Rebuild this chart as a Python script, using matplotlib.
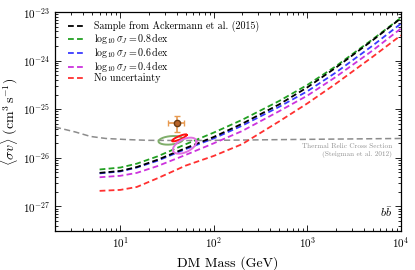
import numpy as np
import matplotlib
matplotlib.use("Agg")
import matplotlib.pyplot as plt

plt.rcParams['font.family'] = 'serif'
plt.rcParams['font.serif'] = ['cmr10', 'DejaVu Serif']
plt.rcParams['mathtext.fontset'] = 'cm'
plt.rcParams['axes.formatter.use_mathtext'] = True

# DM mass grid (GeV) and log10 of the limits <sigma v> (cm^3 s^-1)
mass = [6, 10, 15, 25, 50, 100, 200, 500, 1000, 2000, 5000, 10000]
lim_ackermann = [-26.31, -26.27, -26.19, -26.04, -25.80, -25.57, -25.30, -24.90, -24.55, -24.15, -23.58, -23.13]
lim_08dex = [-26.24, -26.20, -26.12, -25.97, -25.72, -25.48, -25.22, -24.83, -24.50, -24.12, -23.56, -23.12]
lim_06dex = [-26.32, -26.28, -26.20, -26.06, -25.82, -25.60, -25.34, -24.95, -24.63, -24.25, -23.69, -23.24]
lim_04dex = [-26.40, -26.37, -26.31, -26.17, -25.94, -25.70, -25.45, -25.04, -24.72, -24.34, -23.79, -23.34]
lim_nounc = [-26.68, -26.66, -26.60, -26.42, -26.16, -25.96, -25.72, -25.25, -24.88, -24.48, -23.92, -23.48]

# thermal relic cross section (Steigman et al. 2012)
relic_mass = [2, 3.3, 4.8, 7, 12, 20, 50, 100, 1000, 10000]
relic_sv = [4.3e-26, 3.4e-26, 2.75e-26, 2.5e-26, 2.37e-26, 2.29e-26, 2.27e-26, 2.29e-26, 2.4e-26, 2.5e-26]

# GC excess best fit point with errors
gc_mass, gc_mass_lo, gc_mass_hi = 40.0, 32.3, 47.5
gc_sv, gc_sv_lo, gc_sv_hi = 5.3e-26, 3.4e-26, 7.2e-26

# ellipses: centre log10 mass, centre log10 sv, half widths (dex), correlation
ell_cx = [1.539, 1.631, 1.688]
ell_cy = [-25.64, -25.59, -25.75]
ell_dx = [0.131, 0.078, 0.126]
ell_dy = [0.089, 0.072, 0.165]
ell_rho = [0.25, 0.85, 0.5]
ell_colors = ['#7fae6a', '#ff1010', '#e070e0']

fig = plt.figure(figsize=(4.15, 2.7), dpi=100)
ax = fig.add_axes([0.1325, 0.1455, 0.8335, 0.81])

dash = (0, (3.2, 1.8))
lw = 1.3
m = np.array(mass)
ax.plot(m, 10**np.array(lim_ackermann), color='k', ls=dash, lw=lw, zorder=5,
        label='Sample from Ackermann et al. (2015)')
ax.plot(m, 10**np.array(lim_08dex), color='#22a022', ls=dash, lw=lw, zorder=4,
        label=r'$\log_{10}\sigma_J = 0.8\,\mathrm{dex}$')
ax.plot(m, 10**np.array(lim_06dex), color='#3a3aff', ls=dash, lw=lw, zorder=3,
        label=r'$\log_{10}\sigma_J = 0.6\,\mathrm{dex}$')
ax.plot(m, 10**np.array(lim_04dex), color='#cc33dd', ls=dash, lw=lw, zorder=3,
        label=r'$\log_{10}\sigma_J = 0.4\,\mathrm{dex}$')
ax.plot(m, 10**np.array(lim_nounc), color='#ff3030', ls=dash, lw=lw, zorder=3,
        label='No uncertainty')

ax.plot(relic_mass, relic_sv, color='#8c8c8c', ls=(0, (4, 2.2)), lw=1.1, zorder=2)
ax.text(0.975, 0.385, 'Thermal Relic Cross Section', transform=ax.transAxes,
        ha='right', va='center', fontsize=5.2, color='#909090')
ax.text(0.975, 0.35, '(Steigman et al. 2012)', transform=ax.transAxes,
        ha='right', va='center', fontsize=5.2, color='#909090')

t = np.linspace(0, 2*np.pi, 200)
for cx, cy, dx, dy, rho, c in zip(ell_cx, ell_cy, ell_dx, ell_dy, ell_rho, ell_colors):
    phi = np.arccos(rho)
    lx = cx + dx*np.cos(t)
    ly = cy + dy*np.cos(t - phi)
    ax.plot(10**lx, 10**ly, color=c, lw=1.4, zorder=6)

ax.errorbar([gc_mass], [gc_sv],
            xerr=[[gc_mass - gc_mass_lo], [gc_mass_hi - gc_mass]],
            yerr=[[gc_sv - gc_sv_lo], [gc_sv_hi - gc_sv]],
            fmt='o', color='#e89a50', ecolor='#e89a50', mfc='#b8642a', mec='#6a3a10',
            ms=4.5, elinewidth=1.2, capsize=2, capthick=1, zorder=7)

ax.text(0.975, 0.085, r'$b\bar{b}$', transform=ax.transAxes, ha='right', va='center',
        fontsize=8.5)

ax.set_xscale('log')
ax.set_yscale('log')
ax.set_xlim(2, 1e4)
ax.set_ylim(10**-27.5, 1e-23)
ax.set_yticks([1e-27, 1e-26, 1e-25, 1e-24, 1e-23])
ax.set_xticks([1e1, 1e2, 1e3, 1e4])
ax.set_xlabel('DM Mass (GeV)', fontsize=10, labelpad=4)
ax.set_ylabel(r'$\langle\sigma v\rangle\ (\mathrm{cm}^3\,\mathrm{s}^{-1})$', fontsize=10, labelpad=2)
ax.tick_params(which='both', direction='in', top=True, right=True, labelsize=8, width=0.6)
ax.tick_params(which='major', length=4)
ax.tick_params(which='minor', length=2)
for s in ax.spines.values():
    s.set_linewidth(0.9)

leg = ax.legend(loc='upper left', bbox_to_anchor=(0.012, 1.0), frameon=False,
                fontsize=7.2, handlelength=1.5, handletextpad=1.1,
                labelspacing=-0.1, borderaxespad=0.5)

fig.savefig('out.png', dpi=100)
